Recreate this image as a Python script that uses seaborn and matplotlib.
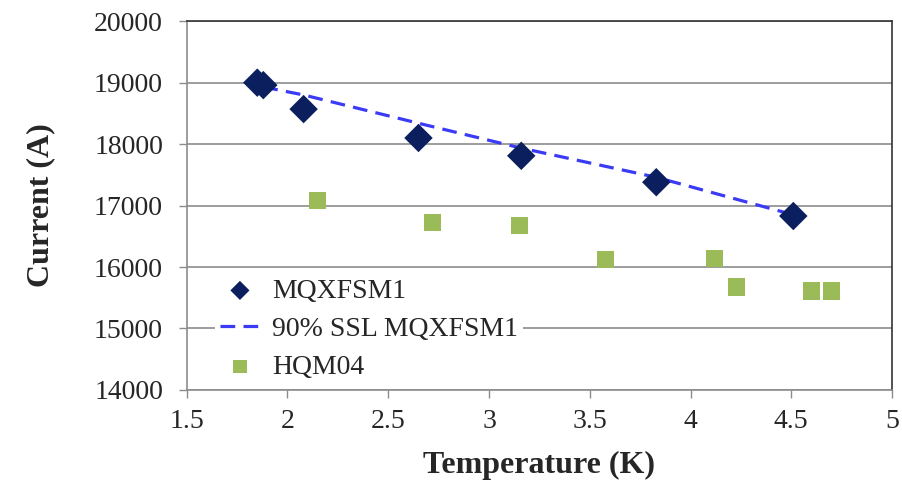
import matplotlib
matplotlib.use("Agg")
import matplotlib.pyplot as plt
import seaborn as sns
import pandas as pd

# Data
mqx_T = [1.85, 1.88, 2.08, 2.65, 3.16, 3.83, 4.51]
mqx_I = [19000, 18960, 18570, 18100, 17810, 17380, 16830]

ssl_T = [1.88, 2.08, 2.65, 3.16, 3.83, 4.51]
ssl_I = [18930, 18800, 18340, 17935, 17460, 16850]

hqm_T = [2.15, 2.72, 3.15, 3.58, 4.12, 4.23, 4.60, 4.70]
hqm_I = [17090, 16730, 16670, 16115, 16145, 15675, 15610, 15610]

x_ticks = [1.5, 2, 2.5, 3, 3.5, 4, 4.5, 5]
y_ticks = [14000, 15000, 16000, 17000, 18000, 19000, 20000]

sns.set_style("white")
plt.rcParams['font.family'] = ['Liberation Serif', 'DejaVu Serif']

fig = plt.figure(figsize=(9.02, 4.82), dpi=100)
ax = fig.add_axes([0.207, 0.191, 0.782, 0.765])

df_m = pd.DataFrame({"T": mqx_T, "I": mqx_I})
df_s = pd.DataFrame({"T": ssl_T, "I": ssl_I})
df_h = pd.DataFrame({"T": hqm_T, "I": hqm_I})

sns.scatterplot(data=df_m, x="T", y="I", ax=ax, marker="D", s=210,
                color="#0b1f5e", edgecolor="none", label="MQXFSM1", zorder=4)
sns.lineplot(data=df_s, x="T", y="I", ax=ax, color="#3b3bf5", lw=2.3,
             linestyle=(0, (4.6, 2.6)), label="90% SSL MQXFSM1", zorder=3)
sns.scatterplot(data=df_h, x="T", y="I", ax=ax, marker="s", s=150,
                color="#9bbb59", edgecolor="none", label="HQM04", zorder=4)

ax.set_xlim(1.5, 5)
ax.set_ylim(14000, 20000)
ax.set_xticks(x_ticks)
ax.set_xticklabels([f"{t:g}" for t in x_ticks])
ax.set_yticks(y_ticks)
ax.set_yticklabels([str(t) for t in y_ticks])

ax.grid(axis="y", color="#8c8c8c", lw=1.2)
ax.set_axisbelow(True)
for side in ["top", "right"]:
    ax.spines[side].set_color("#333333")
    ax.spines[side].set_linewidth(1.2)
for side in ["left", "bottom"]:
    ax.spines[side].set_color("#8c8c8c")
    ax.spines[side].set_linewidth(1.2)

ax.tick_params(axis="both", which="major", direction="out", length=6,
               width=1.0, color="#8c8c8c", labelsize=20, pad=11,
               left=True, bottom=True)
ax.tick_params(axis="x", pad=8)

ax.set_xlabel("Temperature (K)", fontsize=23, fontweight="bold", labelpad=12)
ax.set_ylabel("Current (A)", fontsize=23, fontweight="bold", labelpad=28)

leg = ax.legend(loc="lower left", bbox_to_anchor=(0.04, 0.013), frameon=True,
                facecolor="white", edgecolor="none", framealpha=1,
                fontsize=20, handlelength=1.4, handletextpad=0.45,
                labelspacing=0.45, borderpad=0.2, borderaxespad=0)
for h in leg.legend_handles:
    try:
        h.set_sizes([95])
    except Exception:
        pass

fig.savefig("out.png", dpi=100)
